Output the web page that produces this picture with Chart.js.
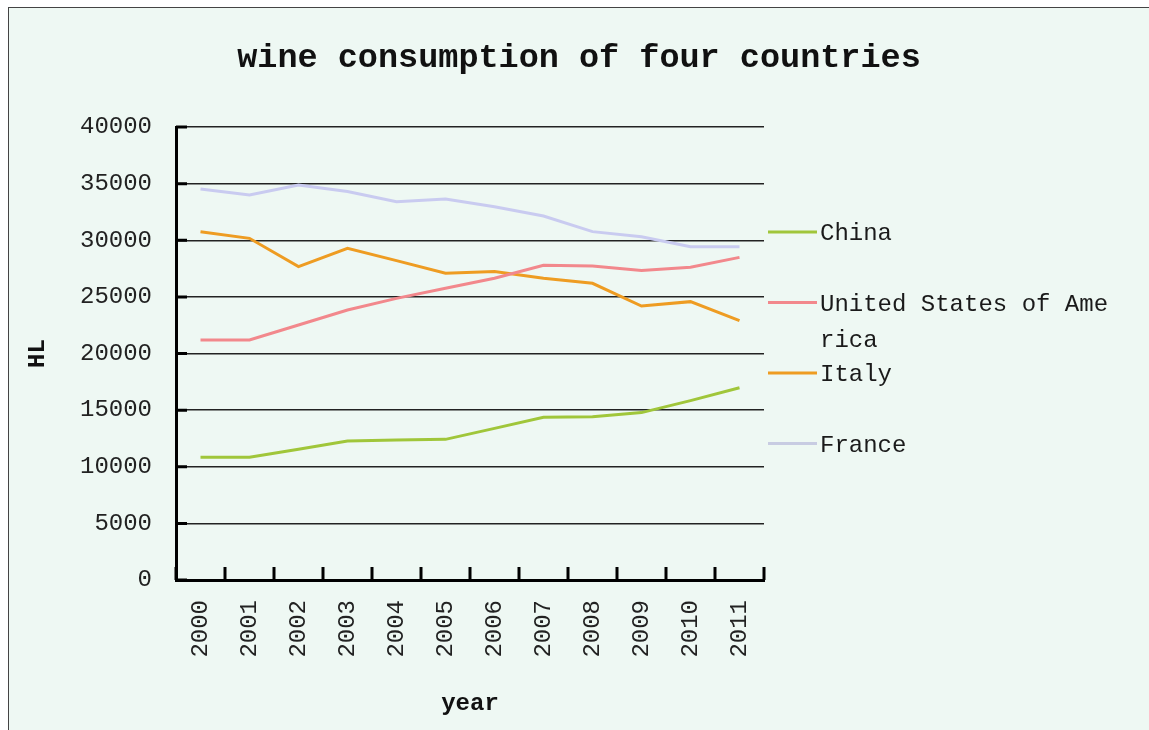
<!DOCTYPE html>
<html>
<head>
<meta charset="utf-8">
<script src="https://cdn.jsdelivr.net/npm/chart.js@4.4.1/dist/chart.umd.min.js"></script>
<style>
  html, body { margin: 0; padding: 0; background: #ffffff; width: 1149px; height: 730px; overflow: hidden; }
  #frame { position: absolute; left: 8px; top: 7px; width: 1160px; height: 740px;
           border-left: 1px solid #444; border-top: 1px solid #444; background: #EEF8F3; }
  #c { position: absolute; left: 0; top: 0; }
</style>
</head>
<body>
<div id="frame"></div>
<canvas id="c" width="1149" height="730"></canvas>
<script>
// ---- data ----
const titleText = 'wine consumption of four countries';
const xTitle = 'year';
const yTitle = 'HL';
const years = ['2000','2001','2002','2003','2004','2005','2006','2007','2008','2009','2010','2011'];
const seriesNames = ['China', 'United States of America', 'Italy', 'France'];
const china  = [10830, 10830, 11540, 12270, 12360, 12420, 13390, 14370, 14420, 14780, 15840, 16980];
const usa    = [21190, 21190, 22520, 23840, 24870, 25760, 26640, 27790, 27730, 27320, 27610, 28490];
const italy  = [30760, 30170, 27670, 29290, 28200, 27080, 27230, 26640, 26200, 24190, 24580, 22900];
const france = [34530, 34000, 34880, 34300, 33400, 33640, 32960, 32140, 30760, 30300, 29430, 29430];
const yMin = 0, yMax = 40000, yStep = 5000;

const colors = ['#A0C63A', '#F2888C', '#EE9C22', '#C9CBF0'];
const legendColors = ['#A0C63A', '#F2888C', '#EE9C22', '#C8CCE2'];
const MONO = '"Liberation Mono", "DejaVu Sans Mono", monospace';

const seriesValues = [china, usa, italy, france];

// inward tick marks
const innerTicks = {
  id: 'innerTicks',
  afterDatasetsDraw(chart) {
    const ctx = chart.ctx, a = chart.chartArea;
    const xs = chart.scales.x, ys = chart.scales.y;
    ctx.save();
    ctx.strokeStyle = '#000';
    ctx.lineWidth = 3;
    ctx.beginPath();
    ys.ticks.forEach(t => {
      const py = ys.getPixelForValue(t.value);
      ctx.moveTo(a.left, py); ctx.lineTo(a.left + 11, py);
    });
    const half = (xs.getPixelForValue(1) - xs.getPixelForValue(0)) / 2;
    for (let i = 0; i <= years.length; i++) {
      const px = i < years.length ? xs.getPixelForValue(i) - half : xs.getPixelForValue(years.length - 1) + half;
      ctx.moveTo(px, a.bottom); ctx.lineTo(px, a.bottom - 13);
    }
    ctx.stroke();
    ctx.restore();
  }
};

// custom legend with wrapped text
const wrapLegend = {
  id: 'wrapLegend',
  afterDraw(chart, args, opts) {
    const ctx = chart.ctx;
    ctx.save();
    ctx.font = '24px ' + MONO;
    ctx.textBaseline = 'middle';
    ctx.fillStyle = '#1a1a1a';
    chart.data.datasets.forEach((ds, i) => {
      const cy = opts.y0 + i * opts.gap;
      ctx.strokeStyle = legendColors[i];
      ctx.lineWidth = 3;
      ctx.beginPath();
      ctx.moveTo(opts.x0, cy); ctx.lineTo(opts.x1, cy);
      ctx.stroke();
      // character wrap
      const lines = [];
      let cur = '';
      for (const ch of ds.label) {
        if (ctx.measureText(cur + ch).width > opts.maxW && cur) { lines.push(cur); cur = ch; }
        else cur += ch;
      }
      lines.push(cur);
      lines.forEach((ln, k) => ctx.fillText(ln, opts.tx, cy + 2 + k * opts.lineH));
    });
    ctx.restore();
  }
};

new Chart(document.getElementById('c'), {
  type: 'line',
  data: {
    labels: years,
    datasets: seriesNames.map((name, i) => ({
      label: name,
      data: seriesValues[i],
      borderColor: colors[i],
      backgroundColor: colors[i],
      borderWidth: 3,
      pointRadius: 0,
      tension: 0,
      fill: false
    }))
  },
  options: {
    responsive: false,
    animation: false,
    devicePixelRatio: 1,
    layout: { padding: { left: 9, top: 20, right: 0, bottom: 0 } },
    plugins: {
      legend: { display: false },
      tooltip: { enabled: false },
      title: {
        display: true,
        text: titleText,
        color: '#111',
        font: { family: MONO, size: 33.5, weight: 'bold', lineHeight: 1.2 },
        padding: { top: 18, bottom: 48.8 }
      },
      wrapLegend: { x0: 768, x1: 817, tx: 820, y0: 232, gap: 70.5, lineH: 36, maxW: 295 }
    },
    scales: {
      x: {
        type: 'category',
        offset: true,
        afterFit: s => { s.height = 150; },
        grid: { display: false, drawTicks: false, offset: true },
        border: { display: true, color: '#000', width: 3 },
        ticks: {
          autoSkip: false, minRotation: 90, maxRotation: 90, padding: 20,
          color: '#222', font: { family: MONO, size: 24 }
        },
        title: {
          display: true, text: xTitle, color: '#111',
          font: { family: MONO, size: 24, weight: 'bold', lineHeight: 1.2 },
          padding: { top: 0, bottom: 12 }
        }
      },
      y: {
        type: 'linear',
        position: 'left',
        min: yMin, max: yMax,
        afterFit: s => { s.width = 167; },
        grid: { color: '#222', lineWidth: 1.5, drawTicks: false },
        border: { display: true, color: '#000', width: 3 },
        ticks: {
          stepSize: yStep, padding: 24, color: '#222',
          font: { family: MONO, size: 24 },
          callback: v => String(v)
        },
        title: {
          display: true, text: yTitle, color: '#111',
          font: { family: MONO, size: 24, weight: 'bold', lineHeight: 1.2 },
          padding: { top: 15, bottom: 0 }
        }
      },
      yR: {
        type: 'linear',
        position: 'right',
        display: true,
        afterFit: s => { s.width = 385; },
        grid: { display: false, drawTicks: false },
        border: { display: false },
        ticks: { display: false }
      }
    }
  },
  plugins: [innerTicks, wrapLegend]
});
</script>
</body>
</html>
